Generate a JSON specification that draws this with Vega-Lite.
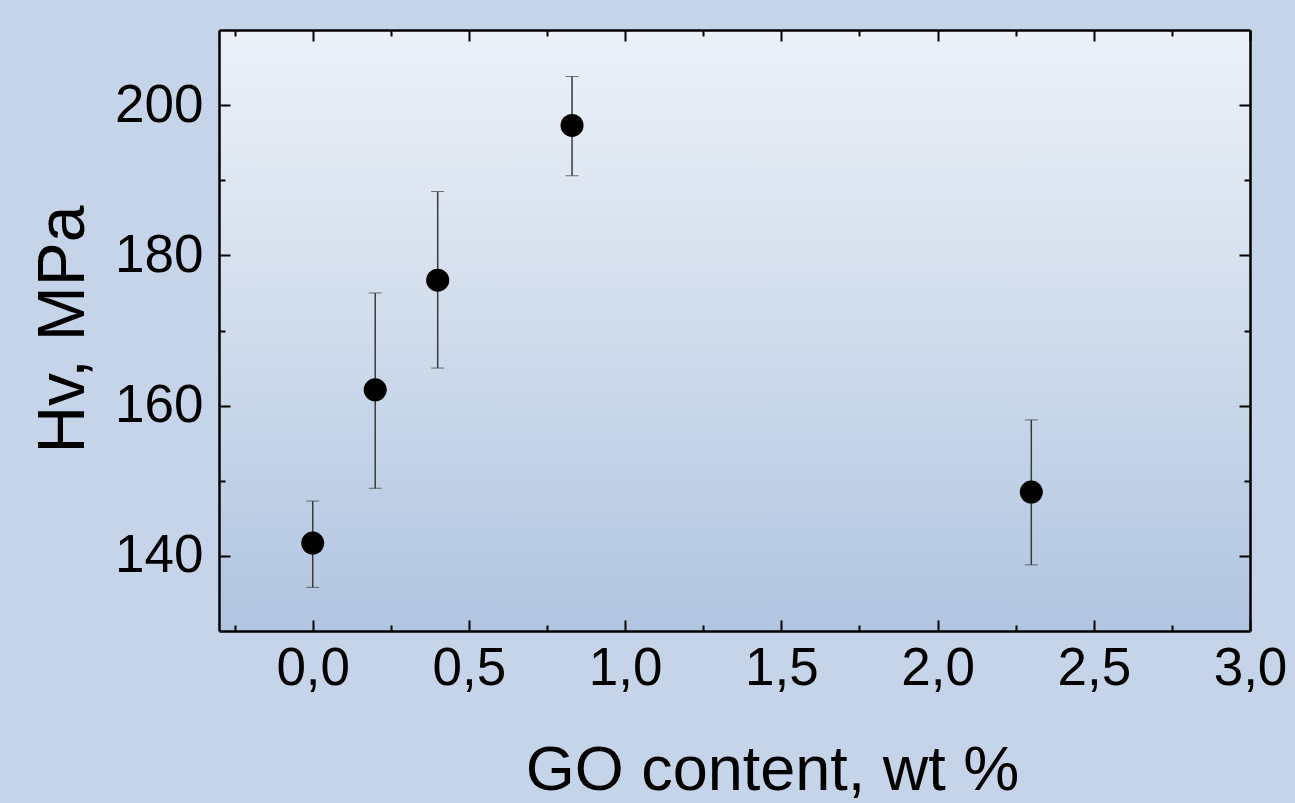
{
  "$schema": "https://vega.github.io/schema/vega-lite/v6.json",
  "width": 1031,
  "height": 601,
  "autosize": {"type": "none"},
  "padding": {"left": 219, "top": 30, "right": 45, "bottom": 172},
  "background": "#c6d4e9",
  "config": {
    "font": "Liberation Sans",
    "view": {
      "stroke": null,
      "fill": {
        "gradient": "linear",
        "x1": 0, "y1": 0, "x2": 0, "y2": 1,
        "stops": [
          {"offset": 0, "color": "#ecf1f8"},
          {"offset": 0.5, "color": "#d0dcec"},
          {"offset": 1, "color": "#b0c5e1"}
        ]
      }
    },
    "axis": {
      "grid": false,
      "domainColor": "black",
      "domainWidth": 2.5,
      "tickColor": "black",
      "tickWidth": 2,
      "labelColor": "black",
      "titleColor": "black",
      "labelFont": "Liberation Sans",
      "titleFont": "Liberation Sans",
      "titleFontWeight": "normal",
      "labelFlush": false,
      "labelOverlap": false,
      "labelBound": false
    }
  },
  "data": {
    "values": [
      {"go": 0.0, "hv": 141.7, "lo": 135.8, "hi": 147.3},
      {"go": 0.2, "hv": 162.1, "lo": 149.0, "hi": 175.0},
      {"go": 0.4, "hv": 176.7, "lo": 165.0, "hi": 188.5},
      {"go": 0.83, "hv": 197.3, "lo": 190.6, "hi": 203.8},
      {"go": 2.3, "hv": 148.5, "lo": 138.8, "hi": 158.1}
    ]
  },
  "layer": [
    {
      "mark": {
        "type": "errorbar",
        "ticks": {"size": 13, "color": "#3a3a3a", "strokeWidth": 1.5},
        "rule": {"color": "#3a3a3a", "strokeWidth": 1.5}
      },
      "encoding": {
        "x": {
          "field": "go", "type": "quantitative",
          "scale": {"domain": [-0.3, 3.0], "nice": false, "zero": false},
          "axis": {
            "orient": "top", "title": null, "labels": false,
            "values": [-0.25, 0, 0.25, 0.5, 0.75, 1, 1.25, 1.5, 1.75, 2, 2.25, 2.5, 2.75, 3],
            "tickSize": {"condition": {"test": "datum.value % 0.5 === 0", "value": -11}, "value": -6}
          }
        },
        "y": {
          "field": "lo", "type": "quantitative",
          "scale": {"domain": [130, 210], "nice": false, "zero": false},
          "axis": {
            "orient": "right", "title": null, "labels": false,
            "values": [140, 150, 160, 170, 180, 190, 200],
            "tickSize": {"condition": {"test": "datum.value % 20 === 0", "value": -11}, "value": -6}
          }
        },
        "y2": {"field": "hi"}
      }
    },
    {
      "mark": {"type": "point", "filled": true, "color": "black", "size": 530, "opacity": 1},
      "encoding": {
        "x": {
          "field": "go", "type": "quantitative",
          "scale": {"domain": [-0.3, 3.0], "nice": false, "zero": false},
          "axis": {
            "orient": "bottom",
            "title": "GO content, wt %",
            "titleFontSize": 63,
            "titleX": 553,
            "titleY": 158,
            "titleAlign": "center",
            "titleBaseline": "alphabetic",
            "labelFontSize": 53,
            "labelPadding": 22,
            "values": [-0.25, 0, 0.25, 0.5, 0.75, 1, 1.25, 1.5, 1.75, 2, 2.25, 2.5, 2.75, 3],
            "labelExpr": "datum.value % 0.5 === 0 ? replace(format(datum.value, '.1f'), '.', ',') : ''",
            "tickSize": {"condition": {"test": "datum.value % 0.5 === 0", "value": -11}, "value": -6}
          }
        },
        "y": {
          "field": "hv", "type": "quantitative",
          "scale": {"domain": [130, 210], "nice": false, "zero": false},
          "axis": {
            "orient": "left",
            "title": "Hv, MPa",
            "titleFontSize": 66,
            "titleX": -136,
            "titleY": 299,
            "titleAlign": "center",
            "titleBaseline": "alphabetic",
            "labelFontSize": 53,
            "labelPadding": 27,
            "values": [140, 150, 160, 170, 180, 190, 200],
            "labelExpr": "datum.value % 20 === 0 ? format(datum.value, 'd') : ''",
            "tickSize": {"condition": {"test": "datum.value % 20 === 0", "value": -11}, "value": -6}
          }
        }
      }
    }
  ]
}
